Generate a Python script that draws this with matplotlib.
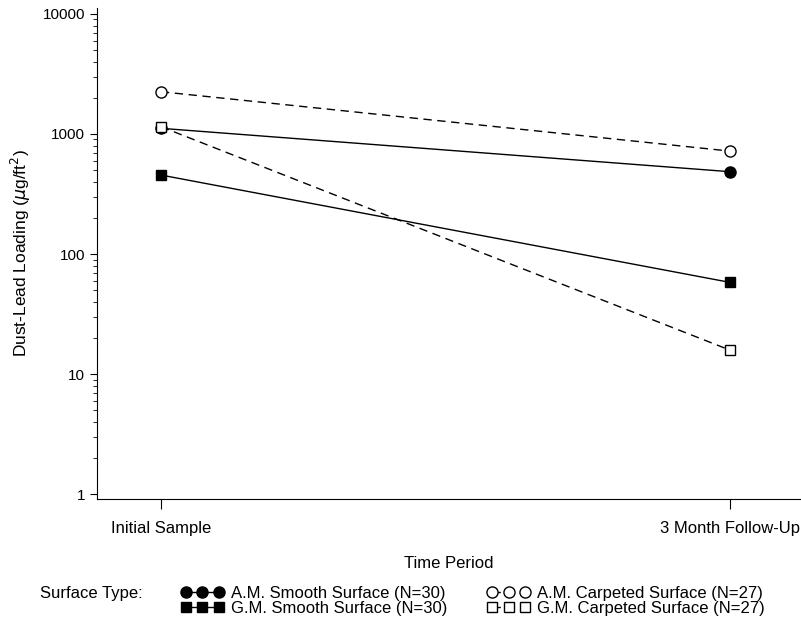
import matplotlib
matplotlib.use("Agg")
import matplotlib.pyplot as plt

###############################################################################
# Datos: carga de plomo en polvo (ug/ft2) por tipo de superficie
###############################################################################
periodos = ["Initial Sample", "3 Month Follow-Up"]
am_liso = [1115, 485]
gm_liso = [455, 58]
am_alfombra = [2250, 720]
gm_alfombra = [1150, 15.8]
yticks = [1, 10, 100, 1000, 10000]

plt.rcParams['font.family'] = ['Liberation Sans', 'DejaVu Sans']

fig = plt.figure(figsize=(8.01, 6.2), dpi=100)
ax = fig.add_axes([0.121, 0.195, 0.878, 0.792])

x = list(range(len(periodos)))
ax.plot(x, am_liso, color='black', lw=1.0, marker='o', ms=8,
        mfc='black', mec='black', label='A.M. Smooth Surface (N=30)')
ax.plot(x, gm_liso, color='black', lw=1.0, marker='s', ms=7.5,
        mfc='black', mec='black', label='G.M. Smooth Surface (N=30)')
ax.plot(x, am_alfombra, color='black', lw=1.0, ls=(0, (6, 4)), marker='o', ms=8,
        mfc='white', mec='black', mew=1.0, label='A.M. Carpeted Surface (N=27)')
ax.plot(x, gm_alfombra, color='black', lw=1.0, ls=(0, (6, 4)), marker='s', ms=7.5,
        mfc='white', mec='black', mew=1.0, label='G.M. Carpeted Surface (N=27)')

ax.set_yscale('log')
ax.set_ylim(0.908, 11200)
ax.set_xlim(-0.1125, 1.123)
ax.set_yticks(yticks)
ax.set_yticklabels([str(v) for v in yticks])
ax.set_xticks(x)
ax.set_xticklabels(periodos)

ax.spines['top'].set_visible(False)
ax.spines['right'].set_visible(False)
ax.tick_params(axis='y', which='major', length=5, labelsize=11, direction='out')
ax.tick_params(axis='y', which='minor', length=3, direction='out')
ax.tick_params(axis='x', length=7, labelsize=12, pad=9, direction='out')

ax.set_xlabel("Time Period", fontsize=12, labelpad=14)
ax.set_ylabel("Dust-Lead Loading ($\\mu$g/ft$^2$)", fontsize=12.5, labelpad=7)

fig.text(0.05, 0.043, "Surface Type:", fontsize=12, va='center')
fig.legend(loc='center left', bbox_to_anchor=(0.215, 0.031), ncol=2,
           numpoints=3, frameon=False, fontsize=12, handlelength=2.6,
           handletextpad=0.4, columnspacing=2.4, labelspacing=0.0,
           borderpad=0)

fig.savefig("out.png", dpi=100)
